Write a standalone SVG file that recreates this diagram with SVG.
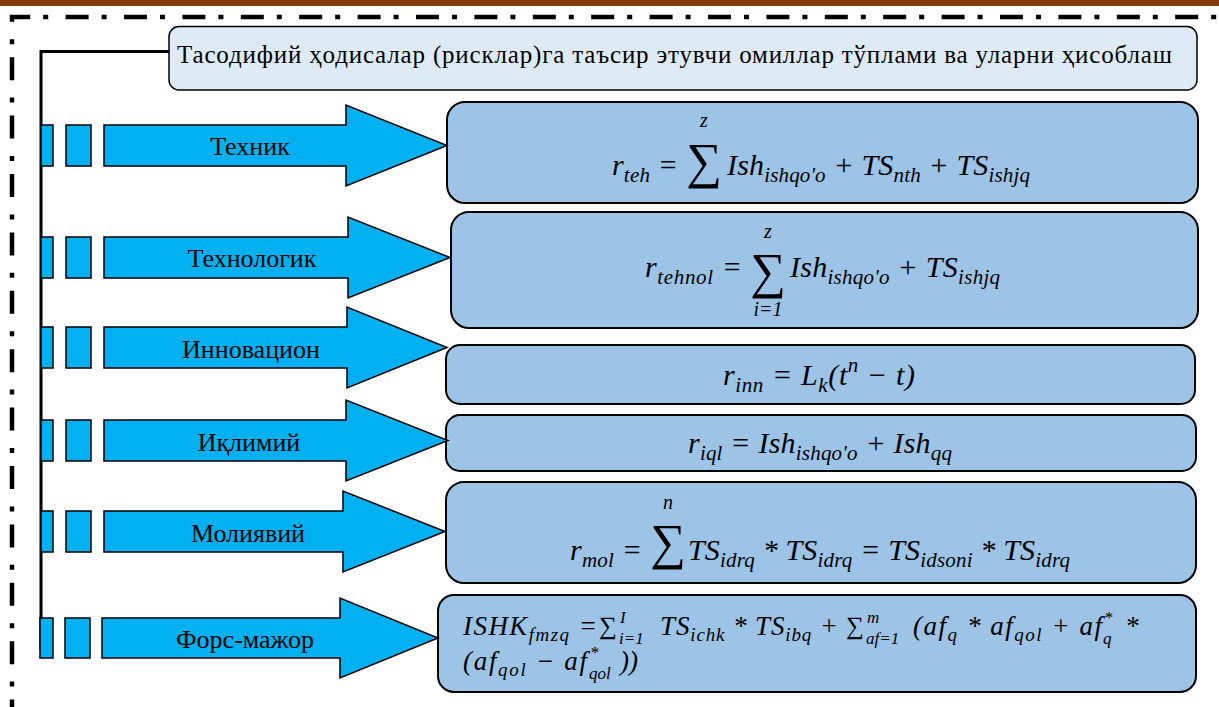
<svg xmlns="http://www.w3.org/2000/svg" width="1219" height="707" viewBox="0 0 1219 707">
<style>
.lbl{font-size:26px;fill:#000;text-anchor:middle}
.hdr{font-size:25px;fill:#000}
.m{font-style:italic;font-size:30px;fill:#000}
.m6{font-style:italic;font-size:27px;fill:#000}
.sb{font-size:21px}
.sb6{font-size:19px}
.sig{font-size:50px;text-anchor:middle}
.sig6{font-size:25px;text-anchor:middle}
.lim{font-style:italic;font-size:20px;text-anchor:middle}
.lim6{font-style:italic;font-size:17px}
.arr{fill:#00B0F0;stroke:#000;stroke-width:1.5}
.fbox{fill:#9DC3E6;stroke:#000;stroke-width:2}
</style>
<rect x="0" y="0" width="1219" height="6" fill="#843C0C"/>
<path d="M12,707 V17 H1219" fill="none" stroke="#000" stroke-width="4.5" stroke-dasharray="23 13 5 17.4" stroke-dashoffset="15.6"/>

<g id="connectors">
<path d="M170,51.5 H41 V650" fill="none" stroke="#000" stroke-width="3"/>
</g>

<g font-family="Liberation Serif, Times New Roman, serif">
<g id="header">
<rect x="169" y="26.5" width="1028" height="63.5" rx="10" fill="#DEEBF7" stroke="#000" stroke-width="1.5"/>
<text class="hdr" x="177" y="63" textLength="995">Тасодифий ҳодисалар (рисклар)га таъсир этувчи омиллар тўплами ва уларни ҳисоблаш</text>
</g>

<g id="box-teh">
<rect class="fbox" x="447" y="102" width="751" height="101" rx="18"/>
<text class="m" x="612" y="175" textLength="66">r<tspan class="sb" y="182">teh</tspan><tspan y="175"> =</tspan></text>
<text class="sig" x="704" y="178">∑</text>
<text class="lim" x="704" y="127">z</text>
<text class="m" x="727" y="175" textLength="303">Ish<tspan class="sb" y="182">ishqo'o</tspan><tspan y="175"> + TS</tspan><tspan class="sb" y="182">nth</tspan><tspan y="175"> + TS</tspan><tspan class="sb" y="182">ishjq</tspan></text>
</g>

<g id="box-tehnol">
<rect class="fbox" x="451" y="212" width="747" height="116" rx="18"/>
<text class="m" x="645" y="277" textLength="97">r<tspan class="sb" y="284">tehnol</tspan><tspan y="277"> =</tspan></text>
<text class="sig" x="768" y="288">∑</text>
<text class="lim" x="768" y="238">z</text>
<text class="lim" x="768" y="316">i=1</text>
<text class="m" x="790" y="277" textLength="210">Ish<tspan class="sb" y="284">ishqo'o</tspan><tspan y="277"> + TS</tspan><tspan class="sb" y="284">ishjq</tspan></text>
</g>

<g id="box-inn">
<rect class="fbox" x="446" y="345" width="749" height="59" rx="14"/>
<text class="m" x="723" y="385" textLength="192">r<tspan class="sb" y="392">inn</tspan><tspan y="385"> = L</tspan><tspan class="sb" y="392">k</tspan><tspan y="385">(t</tspan><tspan class="sb" y="372">n</tspan><tspan y="385"> − t)</tspan></text>
</g>

<g id="box-iql">
<rect class="fbox" x="446" y="415" width="750" height="56" rx="14"/>
<text class="m" x="688" y="453" textLength="264">r<tspan class="sb" y="460">iql</tspan><tspan y="453"> = Ish</tspan><tspan class="sb" y="460">ishqo'o</tspan><tspan y="453"> + Ish</tspan><tspan class="sb" y="460">qq</tspan></text>
</g>

<g id="box-mol">
<rect class="fbox" x="446" y="482" width="750" height="101" rx="18"/>
<text class="m" x="570" y="560" textLength="72">r<tspan class="sb" y="567">mol</tspan><tspan y="560"> =</tspan></text>
<text class="sig" x="668" y="559">∑</text>
<text class="lim" x="668" y="509">n</text>
<text class="m" x="688" y="560" textLength="382">TS<tspan class="sb" y="567">idrq</tspan><tspan y="560"> * TS</tspan><tspan class="sb" y="567">idrq</tspan><tspan y="560"> = TS</tspan><tspan class="sb" y="567">idsoni</tspan><tspan y="560"> * TS</tspan><tspan class="sb" y="567">idrq</tspan></text>
</g>

<g id="box-fmzq">
<rect class="fbox" x="438" y="595" width="758" height="97" rx="16"/>
<text class="m6" x="463" y="635" textLength="134">ISHK<tspan class="sb6" y="641">fmzq</tspan><tspan y="635"> =</tspan></text>
<text class="sig6" x="608" y="634">∑</text>
<text class="lim6" x="620" y="623">I</text>
<text class="lim6" x="619" y="644">i=1</text>
<text class="m6" x="660" y="635" textLength="178">TS<tspan class="sb6" y="641">ichk</tspan><tspan y="635"> * TS</tspan><tspan class="sb6" y="641">ibq</tspan><tspan y="635"> +</tspan></text>
<text class="sig6" x="855" y="634">∑</text>
<text class="lim6" x="867" y="623">m</text>
<text class="lim6" x="866" y="644">af=1</text>
<text class="m6" x="913" y="635" textLength="189">(af<tspan class="sb6" y="641">q</tspan><tspan y="635"> * af</tspan><tspan class="sb6" y="641">qol</tspan><tspan y="635"> + af</tspan></text>
<text class="lim6" x="1104" y="623">*</text>
<text class="lim6" x="1103" y="644">q</text>
<text class="m6" x="1125" y="635">*</text>
<text class="m6" x="463" y="670" textLength="124">(af<tspan class="sb6" y="676">qol</tspan><tspan y="670"> − af</tspan></text>
<text class="lim6" x="590" y="658">*</text>
<text class="lim6" x="589" y="679">qol</text>
<text class="m6" x="620" y="670">))</text>
</g>

<g id="arrow-tehnik">
<rect class="arr" x="41" y="125" width="12" height="41"/>
<rect class="arr" x="66" y="125" width="25" height="41"/>
<polygon class="arr" points="104,125 346,125 346,105 447,145.5 346,186 346,166 104,166"/>
<text class="lbl" x="250" y="155">Техник</text>
</g>
<g id="arrow-tehnologik">
<rect class="arr" x="41" y="237" width="12" height="41"/>
<rect class="arr" x="66" y="237" width="25" height="41"/>
<polygon class="arr" points="104,237 348,237 348,217 450,257.5 348,298 348,278 104,278"/>
<text class="lbl" x="252" y="267">Технологик</text>
</g>
<g id="arrow-innovatsion">
<rect class="arr" x="41" y="327" width="12" height="41"/>
<rect class="arr" x="66" y="327" width="25" height="41"/>
<polygon class="arr" points="104,327 347,327 347,307 447,347.5 347,388 347,368 104,368"/>
<text class="lbl" x="251" y="358">Инновацион</text>
</g>
<g id="arrow-iqlimiy">
<rect class="arr" x="41" y="420" width="12" height="41"/>
<rect class="arr" x="66" y="420" width="25" height="41"/>
<polygon class="arr" points="104,420 346,420 346,400 448,440.5 346,481 346,461 104,461"/>
<text class="lbl" x="249" y="451">Иқлимий</text>
</g>
<g id="arrow-moliyaviy">
<rect class="arr" x="41" y="511" width="12" height="41"/>
<rect class="arr" x="66" y="511" width="25" height="41"/>
<polygon class="arr" points="104,511 343,511 343,491 445,531.5 343,572 343,552 104,552"/>
<text class="lbl" x="248" y="542">Молиявий</text>
</g>
<g id="arrow-fors-major">
<rect class="arr" x="40" y="618" width="13" height="40"/>
<rect class="arr" x="65" y="618" width="25" height="40"/>
<polygon class="arr" points="102,618 340,618 340,598 438,638 340,678 340,658 102,658"/>
<text class="lbl" x="245" y="648">Форс-мажор</text>
</g>
</g>
</svg>
